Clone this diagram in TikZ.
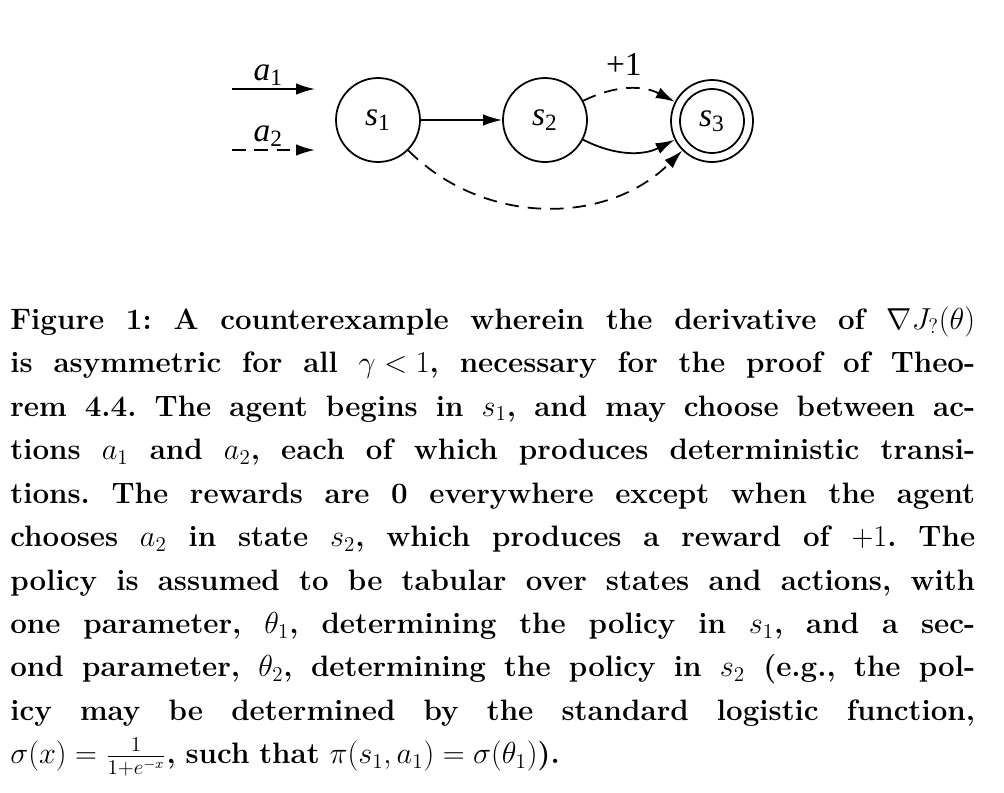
\documentclass[tikz,border=0pt]{standalone}
\usepackage{amsmath}
\usepackage{fontspec}
\setmainfont{Liberation Serif}
\newfontfamily\capfont{Latin Modern Roman}
\usetikzlibrary{arrows.meta}

\tikzset{
  state/.style={circle,draw,line width=1pt,minimum size=1.68cm,inner sep=0pt,font=\fontsize{19}{22}\selectfont},
  trans/.style={-{Latex[length=0.38cm,width=0.23cm]},line width=1pt},
  dashtrans/.style={trans,dash pattern=on 0.27cm off 0.18cm},
  act/.style={font=\fontsize{19}{22}\selectfont,inner sep=1.5pt}
}
\newcommand{\stlab}[2]{\textit{#1}\textsubscript{#2}}
\newcommand{\capline}[1]{\makebox[19.3cm][s]{\frenchspacing
  \spaceskip=\fontdimen2\font plus 1fil minus \fontdimen4\font
  \xspaceskip=\spaceskip #1}}

\begin{document}
\begin{tikzpicture}[x=0.02cm,y=-0.02cm]
    \useasboundingbox (0,0) rectangle (1004,792);

    % States
    \node[state] (s1) at (378,120) {\stlab{s}{1}};
    \node[state] (s2) at (545,120) {\stlab{s}{2}};
    \node[state,minimum size=1.64cm] (s3) at (712,121) {\stlab{s}{3}};
    \node[circle,draw,line width=1pt,minimum size=1.28cm] (s3in) at (s3) {};

    % Actions
    \coordinate (a1start) at (232,89);
    \coordinate (a1end) at (315,89);
    \coordinate (a2start) at (232,150);
    \coordinate (a2end) at (315,150);
    \draw[trans] (a1start) -- node[act,above,xshift=-3pt] (a1lab) {\stlab{a}{1}} (a1end);
    \draw[dashtrans] (a2start) -- node[act,above,xshift=-3pt] (a2lab) {\stlab{a}{2}} (a2end);

    % Transitions
    \draw[trans] (s1) -- (s2);
    \draw[dashtrans] (s2) to[bend left=27] node[act,above,inner sep=7pt,xshift=-3pt] (rew) {+1} (s3);
    \draw[trans] (s2) to[bend right=27] (s3);
    \draw[dashtrans] (s1) to[bend right=45] (s3);

    % Caption
    \node[anchor=north west,inner sep=0pt,text width=19.3cm,align=left,
          font=\capfont\fontsize{16.8}{24.75}\selectfont\bfseries] (caption) at (10,306) {%
    \capline{Figure 1: A counterexample wherein the derivative of $\nabla J_{?}(\theta)$}\\
    \capline{is asymmetric for all $\gamma < 1$, necessary for the proof of Theo-}\\
    \capline{rem 4.4. The agent begins in $s_1$, and may choose between ac-}\\
    \capline{tions $a_1$ and $a_2$, each of which produces deterministic transi-}\\
    \capline{tions. The rewards are 0 everywhere except when the agent}\\
    \capline{chooses $a_2$ in state $s_2$, which produces a reward of $+1$. The}\\
    \capline{policy is assumed to be tabular over states and actions, with}\\
    \capline{one parameter, $\theta_1$, determining the policy in $s_1$, and a sec-}\\
    \capline{ond parameter, $\theta_2$, determining the policy in $s_2$ (e.g., the pol-}\\
    \capline{icy may be determined by the standard logistic function,}\\
    $\sigma(x) = \frac{1}{1+e^{-x}}$, such that $\pi(s_1, a_1) = \sigma(\theta_1)$).};
\end{tikzpicture}
\end{document}
